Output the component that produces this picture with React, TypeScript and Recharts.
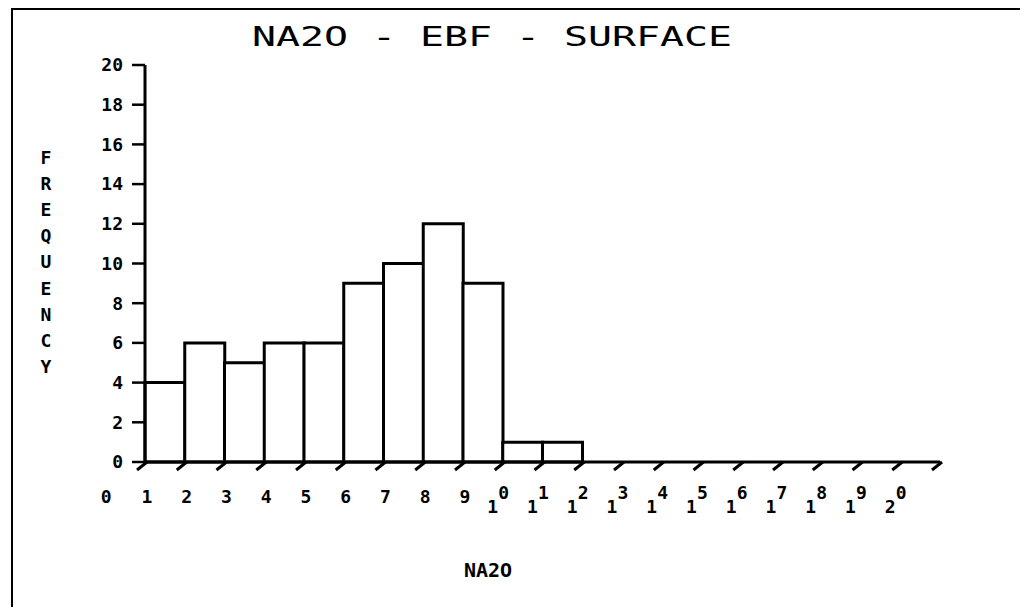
import React from 'react';
import { ComposedChart, Bar, XAxis, YAxis } from 'recharts';

// histogram bins (mid points) and counts
const binMids = [1.5, 2.5, 3.5, 4.5, 5.5, 6.5, 7.5, 8.5, 9.5, 10.5, 11.5, 12.5, 13.5, 14.5, 15.5, 16.5, 17.5, 18.5, 19.5, 20.5];
const counts = [4, 6, 5, 6, 6, 9, 10, 12, 9, 1, 1, 0, 0, 0, 0, 0, 0, 0, 0, 0];

const xTicks = [1, 2, 3, 4, 5, 6, 7, 8, 9, 10, 11, 12, 13, 14, 15, 16, 17, 18, 19, 20, 21];
const xTickLabels = ['1', '2', '3', '4', '5', '6', '7', '8', '9', '10', '11', '12', '13', '14', '15', '16', '17', '18', '19', '20', ''];
const yTicks = [0, 2, 4, 6, 8, 10, 12, 14, 16, 18, 20];

const title = 'NA2O - EBF - SURFACE';
const yTitle = 'FREQUENCY';
const xTitle = 'NA2O';

const W = 1028;
const H = 615;
const STEP = 39.75;
const FONT = '"DejaVu Sans Mono", monospace';

const data = binMids.map((x, i) => ({ x, count: counts[i] }));

// plotter style tick: a slash under the axis and the number below it
const XTick = (props: any) => {
  const { x, y, payload } = props;
  const idx = xTicks.indexOf(payload.value);
  const label = xTickLabels[idx] ?? '';
  const txt = { fontFamily: FONT, fontSize: 18, fontWeight: 700, fill: '#000', textAnchor: 'middle' as const };
  return (
    <g>
      <line x1={x - 8} y1={y + 8} x2={x + 2} y2={y} stroke="#000" strokeWidth={3} />
      {idx === 0 && (
        <text x={x - STEP + 1} y={y + 41} {...txt}>0</text>
      )}
      {label.length === 1 && (
        <text x={x + 2} y={y + 41} {...txt}>{label}</text>
      )}
      {label.length === 2 && (
        <g>
          <text x={x - 10} y={y + 51} {...txt}>{label[0]}</text>
          <text x={x + 1} y={y + 37} {...txt}>{label[1]}</text>
        </g>
      )}
    </g>
  );
};

export default function App() {
  return (
    <div style={{ position: 'relative', width: W, height: H, margin: -8, background: '#fff' }}>
      <ComposedChart
        width={W}
        height={H}
        data={data}
        barCategoryGap={0}
        barGap={0}
        margin={{ top: 65, right: 88, bottom: 93, left: 85 }}
      >
        <XAxis
          dataKey="x"
          type="number"
          domain={[1, 21]}
          ticks={xTicks}
          interval={0}
          height={60}
          tick={<XTick />}
          tickLine={false}
          tickSize={0}
          tickMargin={0}
          axisLine={{ stroke: '#000', strokeWidth: 3 }}
        />
        <YAxis
          type="number"
          domain={[0, 20]}
          ticks={yTicks}
          interval={0}
          width={60}
          tickSize={13}
          tickMargin={9}
          tickLine={{ stroke: '#000', strokeWidth: 2.5 }}
          axisLine={{ stroke: '#000', strokeWidth: 3 }}
          tick={{ fontFamily: FONT, fontSize: 18, fontWeight: 700, fill: '#000' }}
        />
        <Bar
          dataKey="count"
          fill="#fff"
          stroke="#000"
          strokeWidth={3}
          isAnimationActive={false}
        />
      </ComposedChart>
      <svg width={W} height={H} style={{ position: 'absolute', left: 0, top: 0, pointerEvents: 'none' }}>
        <rect x={12} y={9} width={1014} height={603} fill="none" stroke="#000" strokeWidth={2} />
        <text
          x={252}
          y={46}
          fontFamily={FONT}
          fontSize={26}
          textLength={480}
          lengthAdjust="spacingAndGlyphs"
          fill="#000"
        >
          {title}
        </text>
        {yTitle.split('').map((ch, i) => (
          <text key={i} x={46} y={164 + i * 26.1} fontFamily={FONT} fontSize={18} fontWeight={700} fill="#000" textAnchor="middle">
            {ch}
          </text>
        ))}
        <text x={488} y={577} fontFamily={FONT} fontSize={20} fontWeight={700} fill="#000" textAnchor="middle">
          {xTitle}
        </text>
      </svg>
    </div>
  );
}
